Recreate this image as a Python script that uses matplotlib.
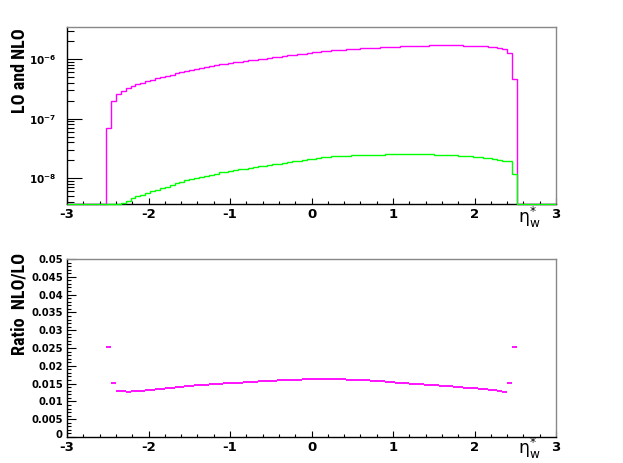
import numpy as np
import matplotlib
matplotlib.use("Agg")
import matplotlib.pyplot as plt
import matplotlib.transforms as mtransforms
from matplotlib import font_manager
from matplotlib.ticker import FixedLocator, MultipleLocator, LogLocator, FuncFormatter, NullFormatter

# ---------------- data ----------------
x_min, x_max, n_bins = -3.0, 3.0, 100
first_bin = 8          # first non-empty bin (edge -2.52)

# LO (magenta) per bin, bins from -2.52 to 2.52 (width 0.06)
lo_values = [
    7.0e-8, 2.0e-7, 2.65e-7, 2.95e-7, 3.25e-7, 3.6e-7, 3.8e-7, 4.0e-7, 4.25e-7, 4.5e-7,
    4.75e-7, 5.0e-7, 5.25e-7, 5.5e-7, 5.8e-7, 6.1e-7, 6.4e-7, 6.65e-7, 6.9e-7, 7.15e-7,
    7.4e-7, 7.7e-7, 8.0e-7, 8.25e-7, 8.45e-7, 8.7e-7, 8.9e-7, 9.15e-7, 9.35e-7, 9.6e-7,
    9.85e-7, 1.01e-6, 1.03e-6, 1.05e-6, 1.075e-6, 1.10e-6, 1.13e-6, 1.16e-6, 1.19e-6, 1.22e-6,
    1.25e-6, 1.28e-6, 1.31e-6, 1.34e-6, 1.37e-6, 1.395e-6, 1.42e-6, 1.44e-6, 1.46e-6, 1.48e-6,
    1.50e-6, 1.52e-6, 1.535e-6, 1.55e-6, 1.565e-6, 1.58e-6, 1.595e-6, 1.61e-6, 1.625e-6, 1.64e-6,
    1.65e-6, 1.66e-6, 1.67e-6, 1.68e-6, 1.69e-6, 1.70e-6, 1.71e-6, 1.715e-6, 1.72e-6, 1.72e-6,
    1.72e-6, 1.715e-6, 1.71e-6, 1.70e-6, 1.69e-6, 1.68e-6, 1.66e-6, 1.645e-6, 1.625e-6, 1.60e-6,
    1.56e-6, 1.51e-6, 1.26e-6, 4.7e-7,
]

# NLO (green) per bin, same bins
nlo_values = [
    1.76e-9, 3.04e-9, 3.42e-9, 3.81e-9, 4.13e-9, 4.61e-9, 4.94e-9, 5.2e-9, 5.61e-9, 5.99e-9,
    6.37e-9, 6.8e-9, 7.19e-9, 7.59e-9, 8.12e-9, 8.6e-9, 9.09e-9, 9.58e-9, 1.0e-8, 1.044e-8,
    1.088e-8, 1.14e-8, 1.19e-8, 1.24e-8, 1.276e-8, 1.322e-8, 1.353e-8, 1.40e-8, 1.44e-8, 1.488e-8,
    1.527e-8, 1.576e-8, 1.617e-8, 1.659e-8, 1.699e-8, 1.749e-8, 1.808e-8, 1.856e-8, 1.916e-8, 1.964e-8,
    2.025e-8, 2.074e-8, 2.122e-8, 2.184e-8, 2.233e-8, 2.274e-8, 2.315e-8, 2.333e-8, 2.365e-8, 2.383e-8,
    2.415e-8, 2.432e-8, 2.456e-8, 2.465e-8, 2.473e-8, 2.481e-8, 2.488e-8, 2.496e-8, 2.503e-8, 2.509e-8,
    2.508e-8, 2.507e-8, 2.505e-8, 2.503e-8, 2.501e-8, 2.499e-8, 2.497e-8, 2.487e-8, 2.477e-8, 2.46e-8,
    2.442e-8, 2.418e-8, 2.394e-8, 2.363e-8, 2.332e-8, 2.302e-8, 2.258e-8, 2.204e-8, 2.161e-8, 2.096e-8,
    2.012e-8, 1.918e-8, 1.903e-8, 1.184e-8,
]

# Ratio NLO/LO per bin
ratio_values = [
    0.0252, 0.0152, 0.0129, 0.0129, 0.0127, 0.0128, 0.0130, 0.0130, 0.0132, 0.0133,
    0.0134, 0.0136, 0.0137, 0.0138, 0.0140, 0.0141, 0.0142, 0.0144, 0.0145, 0.0146,
    0.0147, 0.0148, 0.0149, 0.0150, 0.0151, 0.0152, 0.0152, 0.0153, 0.0154, 0.0155,
    0.0155, 0.0156, 0.0157, 0.0158, 0.0158, 0.0159, 0.0160, 0.0160, 0.0161, 0.0161,
    0.0162, 0.0162, 0.0162, 0.0163, 0.0163, 0.0163, 0.0163, 0.0162, 0.0162, 0.0161,
    0.0161, 0.0160, 0.0160, 0.0159, 0.0158, 0.0157, 0.0156, 0.0155, 0.0154, 0.0153,
    0.0152, 0.0151, 0.0150, 0.0149, 0.0148, 0.0147, 0.0146, 0.0145, 0.0144, 0.0143,
    0.0142, 0.0141, 0.0140, 0.0139, 0.0138, 0.0137, 0.0136, 0.0134, 0.0133, 0.0131,
    0.0129, 0.0127, 0.0151, 0.0252,
]

x_ticks = [-3, -2, -1, 0, 1, 2, 3]
top_ylim = (3.65e-9, 3.5e-6)
bot_ylim = (0.0, 0.05)
bot_yticks = [0, 0.005, 0.01, 0.015, 0.02, 0.025, 0.03, 0.035, 0.04, 0.045, 0.05]
bot_yticklabels = ["0", "0.005", "0.01", "0.015", "0.02", "0.025", "0.03", "0.035", "0.04", "0.045", "0.05"]

# ---------------- fonts ----------------
avail = {f.name for f in font_manager.fontManager.ttflist}
tick_font = "DejaVu Sans"
title_font = "Liberation Sans"
for cand in ["Liberation Sans Narrow", "DejaVu Sans Condensed", "Roboto Condensed",
             "Open Sans Condensed", "Noto Sans Condensed"]:
    if cand in avail:
        title_font = cand
        break
plt.rcParams["font.family"] = [tick_font]
plt.rcParams["mathtext.fontset"] = "custom"
plt.rcParams["mathtext.rm"] = "DejaVu Sans"
plt.rcParams["mathtext.bf"] = "DejaVu Sans:bold"
plt.rcParams["mathtext.it"] = "DejaVu Sans:italic"

# ---------------- build full histograms ----------------
edges = np.linspace(x_min, x_max, n_bins + 1)
lo_full = np.zeros(n_bins)
nlo_full = np.zeros(n_bins)
ratio_full = np.zeros(n_bins)
lo_full[first_bin:first_bin + len(lo_values)] = lo_values
nlo_full[first_bin:first_bin + len(nlo_values)] = nlo_values
ratio_full[first_bin:first_bin + len(ratio_values)] = ratio_values

W, H = 623, 463
fig = plt.figure(figsize=(W / 100, H / 100), dpi=100)

def px_rect(l, t, r, b):
    return [l / W, 1 - b / H, (r - l) / W, (b - t) / H]

ax1 = fig.add_axes(px_rect(67, 27, 556, 204))
ax2 = fig.add_axes(px_rect(67, 259, 556, 437))

MAG = "#ff00ff"
GRN = "#00ff00"

ymin = top_ylim[0]
ax1.stairs(np.maximum(lo_full, ymin), edges, color=MAG, lw=1.0, baseline=None, zorder=3, clip_on=False)
ax1.stairs(np.maximum(nlo_full, ymin), edges, color=GRN, lw=1.0, baseline=None, zorder=4, clip_on=False)
ax1.set_yscale("log")
ax1.set_ylim(*top_ylim)
ax1.set_xlim(x_min, x_max)

# ratio: horizontal bin-width marks
mask = ratio_full > 0
ax2.hlines(ratio_full[mask], edges[:-1][mask], edges[1:][mask], colors=MAG, lw=1.3, zorder=3)
ax2.set_xlim(x_min, x_max)
ax2.set_ylim(*bot_ylim)

for ax in (ax1, ax2):
    for side in ("top", "right"):
        ax.spines[side].set_color("#888888")
    for side in ("left", "bottom"):
        ax.spines[side].set_color("black")
    for s in ax.spines.values():
        s.set_linewidth(1.0)
    ax.xaxis.set_major_locator(FixedLocator(x_ticks))
    ax.xaxis.set_minor_locator(MultipleLocator(0.2))
    ax.set_xticklabels([str(v) for v in x_ticks], fontsize=9.5, fontweight="bold")
    ax.tick_params(axis="x", which="major", direction="in", length=4, width=0.8, pad=3, top=False)
    ax.tick_params(axis="x", which="minor", direction="in", length=2.2, width=0.8, top=False)
    ax.tick_params(axis="y", which="both", direction="in", right=False, width=0.8)

# top y ticks
ax1.yaxis.set_major_locator(LogLocator(base=10, numticks=10))
ax1.yaxis.set_minor_locator(LogLocator(base=10, subs=np.arange(2, 10), numticks=20))
ax1.yaxis.set_major_formatter(FuncFormatter(lambda v, p: r"$\mathbf{10^{%d}}$" % int(round(np.log10(v)))))
ax1.yaxis.set_minor_formatter(NullFormatter())
ax1.tick_params(axis="y", which="major", length=10.5, pad=8, labelsize=7.5)
ax1.tick_params(axis="y", which="minor", length=5)

# bottom y ticks
ax2.yaxis.set_major_locator(FixedLocator(bot_yticks))
ax2.set_yticklabels(bot_yticklabels, fontsize=7.2, fontweight="bold")
ax2.yaxis.set_minor_locator(MultipleLocator(0.001))
ax2.tick_params(axis="y", which="major", length=6.5, pad=3)
ax2.tick_params(axis="y", which="minor", length=3.2)
# lift the "0" label slightly, as in the reference, so it clears the "-3" below
zero_lbl = ax2.get_yticklabels()[0]
zero_lbl.set_transform(zero_lbl.get_transform() +
                       mtransforms.ScaledTranslation(0, 2.5 / 100, fig.dpi_scale_trans))

# axis titles (ROOT-style placement)
title_size = 13 if title_font != "Liberation Sans" else 11.5
fig.text(20 / W, 1 - 28 / H, "LO and NLO", rotation=90, ha="center", va="top",
         fontsize=title_size, fontweight="bold", family=[title_font, "DejaVu Sans"])
fig.text(20 / W, 1 - 253 / H, "Ratio  NLO/LO", rotation=90, ha="center", va="top",
         fontsize=title_size, fontweight="bold", family=[title_font, "DejaVu Sans"])
xlab = r"$\mathrm{\eta}^{*}_{\mathrm{w}}$"
fig.text(541 / W, 1 - 205 / H, xlab, ha="right", va="top", fontsize=12.5)
fig.text(541 / W, 1 - 436 / H, xlab, ha="right", va="top", fontsize=12.5)

fig.savefig("out.png", dpi=100)
